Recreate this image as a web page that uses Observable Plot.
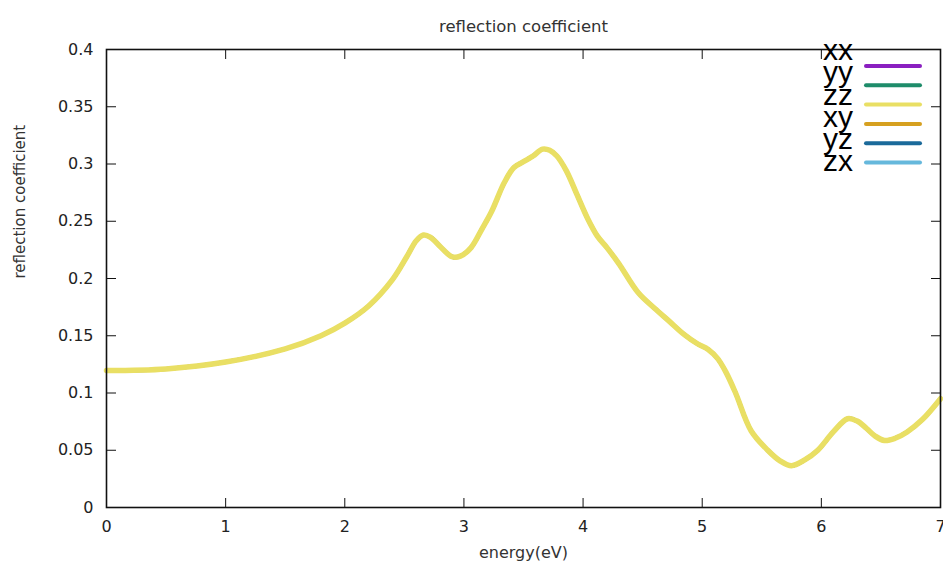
<!DOCTYPE html>
<html>
<head>
<meta charset="utf-8">
<script src="https://cdn.jsdelivr.net/npm/d3@7"></script>
<script src="https://cdn.jsdelivr.net/npm/@observablehq/plot@0.6"></script>
<style>
  html, body { margin: 0; padding: 0; background: #fff; }
  #chart { position: relative; width: 943px; height: 565px; font-family: "DejaVu Sans", sans-serif; }
  #legend { position: absolute; left: 0; top: 0; pointer-events: none; }
</style>
</head>
<body>
<div id="chart"></div>
<script>
// Photon energy (eV) and reflection coefficient R(E)
const energy = [0, 0.5, 1, 1.5, 1.8, 2, 2.2, 2.4, 2.52, 2.6, 2.66, 2.72, 2.8, 2.9, 2.97, 3.06, 3.15, 3.23, 3.34, 3.42, 3.5, 3.58, 3.66, 3.72, 3.78, 3.86, 3.95, 4.04, 4.12, 4.2, 4.3, 4.46, 4.6, 4.72, 4.85, 4.96, 5.05, 5.13, 5.2, 5.28, 5.41, 5.55, 5.65, 5.75, 5.86, 5.97, 6.1, 6.22, 6.3, 6.38, 6.45, 6.53, 6.62, 6.72, 6.85, 7.0];
const reflection = [0.1196, 0.121, 0.127, 0.1385, 0.150, 0.161, 0.176, 0.199, 0.219, 0.233, 0.238, 0.236, 0.228, 0.219, 0.2195, 0.227, 0.243, 0.258, 0.284, 0.297, 0.302, 0.307, 0.313, 0.312, 0.307, 0.294, 0.273, 0.252, 0.237, 0.227, 0.213, 0.188, 0.174, 0.163, 0.151, 0.143, 0.138, 0.130, 0.118, 0.100, 0.067, 0.050, 0.041, 0.0365, 0.0415, 0.050, 0.066, 0.0775, 0.0755, 0.069, 0.0625, 0.0585, 0.0605, 0.066, 0.077, 0.095];

// Tensor components shown in the key and their colours
const components = ["xx", "yy", "zz", "xy", "yz", "zx"];
const componentColors = ["#8a1fc0", "#1e8c6a", "#e9df64", "#d6a020", "#1b6a9a", "#66b8dc"];

const xTicks = [0, 1, 2, 3, 4, 5, 6, 7];
const yTicks = [0, 0.05, 0.1, 0.15, 0.2, 0.25, 0.3, 0.35, 0.4];

const titleText = "reflection coefficient";
const xLabel = "energy(eV)";
const yLabel = "reflection coefficient";

// Diagonal components coincide (isotropic response); zz is drawn last, on top
const rows = [];
for (const c of ["xx", "yy", "zz"]) {
  energy.forEach((e, i) => rows.push({component: c, energy: e, R: reflection[i]}));
}

const W = 943, H = 565;
const axisColor = "#111";
const textColor = "#222";

const plot = Plot.plot({
  width: W,
  height: H,
  marginLeft: 106,
  marginRight: 3,
  marginTop: 49,
  marginBottom: 58,
  style: {fontFamily: "DejaVu Sans, sans-serif", fontSize: "16px", color: textColor, background: "#fff"},
  x: {domain: [0, 7]},
  y: {domain: [0, 0.4]},
  color: {domain: components, range: componentColors},
  marks: [
    Plot.line(rows.filter(d => d.component !== "zz"), {x: "energy", y: "R", z: "component", stroke: "component", strokeWidth: 4, curve: "catmull-rom"}),
    Plot.line(rows.filter(d => d.component === "zz"), {x: "energy", y: "R", stroke: "component", strokeWidth: 5.5, curve: "catmull-rom"}),
    Plot.frame({stroke: axisColor, strokeWidth: 1.6}),
    Plot.axisX({anchor: "bottom", ticks: xTicks, tickFormat: d => String(d), tickSize: -9, tickPadding: 22, stroke: axisColor, label: null}),
    Plot.axisX({anchor: "top", ticks: xTicks, tickFormat: null, text: null, tickSize: -9, stroke: axisColor, label: null}),
    Plot.axisY({anchor: "left", ticks: yTicks, tickFormat: d => String(d), tickSize: -10, tickPadding: 23, stroke: axisColor, label: null}),
    Plot.axisY({anchor: "right", ticks: yTicks, tickFormat: null, text: null, tickSize: -10, stroke: axisColor, label: null}),
    Plot.text([titleText], {text: d => d, frameAnchor: "top", dy: -29, fontSize: 16.5, fill: "#333"}),
    Plot.text([xLabel], {text: d => d, frameAnchor: "bottom", dy: 50, fontSize: 16, fill: "#333"}),
    Plot.text([yLabel], {text: d => d, frameAnchor: "left", dx: -86, rotate: -90, fontSize: 15, fill: "#333"})
  ]
});

const chart = document.getElementById("chart");
chart.appendChild(plot);

// Key in the upper right: label right-aligned, then a line sample
const legend = d3.select(chart).append("svg")
  .attr("id", "legend")
  .attr("width", W)
  .attr("height", H);

const labelRight = 853, sampleX1 = 866, sampleX2 = 920;
const labelY0 = 52, sampleY0 = 66, step = 19.3, labelStep = 22.3;

components.forEach((c, i) => {
  legend.append("text")
    .attr("x", labelRight)
    .attr("y", labelY0 + i * labelStep)
    .attr("text-anchor", "end")
    .attr("dominant-baseline", "middle")
    .attr("font-family", "Liberation Sans, Arial, sans-serif")
    .attr("font-size", 30)
    .attr("fill", "#000")
    .text(c);
  legend.append("line")
    .attr("x1", sampleX1)
    .attr("x2", sampleX2)
    .attr("y1", sampleY0 + i * step)
    .attr("y2", sampleY0 + i * step)
    .attr("stroke", componentColors[i])
    .attr("stroke-width", 4)
    .attr("stroke-linecap", "round");
});
</script>
</body>
</html>
